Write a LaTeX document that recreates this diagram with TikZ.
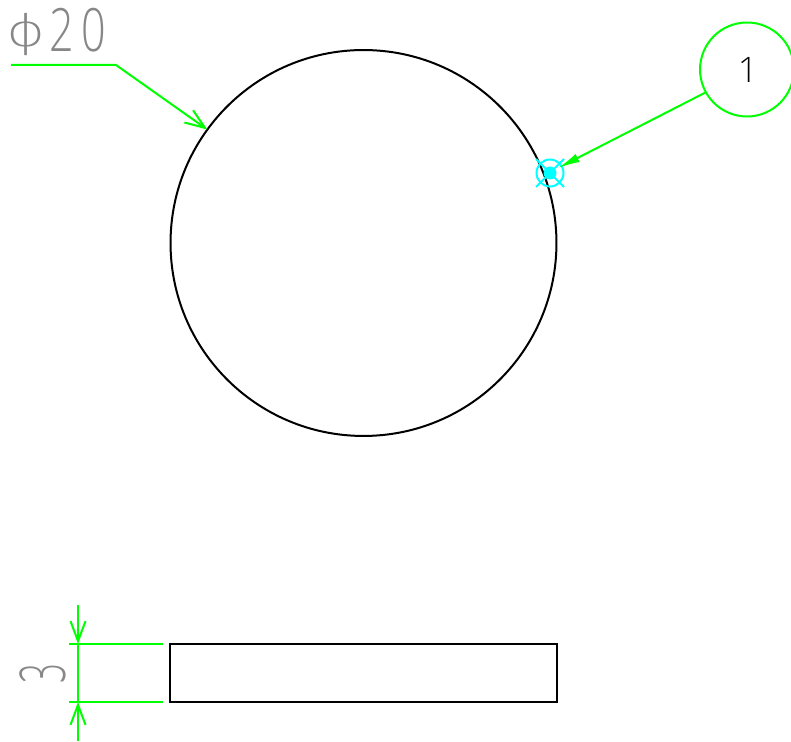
\documentclass[tikz,border=0pt]{standalone}
\usepackage{fontspec}
\newfontfamily\cadfont{Open Sans Light}
\newfontfamily\phifont{DejaVu Sans ExtraLight}
\usetikzlibrary{arrows.meta}
\definecolor{dimgreen}{RGB}{0,255,0}
\definecolor{markcyan}{RGB}{0,255,255}
\definecolor{textgray}{RGB}{135,135,135}
\tikzset{
	part/.style={draw=black,line width=0.4mm,inner sep=0pt,outer sep=0pt},
	dimline/.style={draw=dimgreen,line width=0.4mm},
	openhead/.style={-{Straight Barb[length=4mm,width=3mm,line width=0.4mm]}},
	solidhead/.style={-{Latex[length=4.4mm,width=1.8mm]}},
	cadtext/.style={textgray,inner sep=0pt,font=\cadfont\fontsize{34}{34}\selectfont}
}
\begin{document}
\begin{tikzpicture}[x=0.02cm,y=-0.02cm]
	\useasboundingbox (0,0) rectangle (791,742);

	\draw (363.5,243) node (disc) [part,circle,minimum size=7.72cm] {};
	\draw (363.5,673) node (plate) [part,rectangle,minimum width=7.74cm,minimum height=1.16cm] {};

	\draw (550,173) node (spot) [circle,draw=markcyan,line width=0.4mm,minimum size=0.54cm,inner sep=0pt,outer sep=0pt] {};
	\fill[markcyan] (spot) circle (6.5);
	\draw[markcyan,line width=0.4mm] (536,159) -- (564,187);
	\draw[markcyan,line width=0.4mm] (536,187) -- (564,159);

	\draw (747,69.5) node (balloon) [circle,draw=dimgreen,line width=0.4mm,minimum size=1.88cm,inner sep=0pt,outer sep=0pt] {};
	\draw (748,69.5) node (itemno) [inner sep=0pt,font=\cadfont\fontsize{20}{20}\selectfont] {1};
	\coordinate (spottip) at (558,168);
	\draw[dimline,solidhead] (balloon.209) -- (spottip);

	\coordinate (leadstart) at (11,65);
	\coordinate (leadbend) at (116,65);
	\draw[dimline,openhead] (leadstart) -- (leadbend) -- (disc.144.3);
	\draw (6,52) node (dia) [cadtext,anchor=base west] {\raisebox{3pt}{\scalebox{1.35}[1]{\phifont\fontsize{25}{25}\selectfont ϕ}}\hspace{2.3pt}\scalebox{0.72}[1]{2}\hspace{4.3pt}\scalebox{0.72}[1]{0}};

	\coordinate (exttopin) at (163,644);
	\coordinate (exttopout) at (69,644);
	\coordinate (extbotin) at (163,702);
	\coordinate (extbotout) at (69,702);
	\draw[dimline] (exttopin) -- (exttopout);
	\draw[dimline] (extbotin) -- (extbotout);

	\coordinate (dimtop) at (78,605);
	\coordinate (dimtopend) at (78,644);
	\coordinate (dimbot) at (78,741);
	\coordinate (dimbotend) at (78,702);
	\draw[dimline,openhead] (dimtop) -- (dimtopend);
	\draw[dimline,openhead] (dimbot) -- (dimbotend);
	\draw[dimline] (dimtopend) -- (dimbotend);

	\draw (43,674) node (thick) [textgray,inner sep=0pt,yscale=0.55,rotate=90,font=\cadfont\fontsize{36}{36}\selectfont] {3};
\end{tikzpicture}
\end{document}
